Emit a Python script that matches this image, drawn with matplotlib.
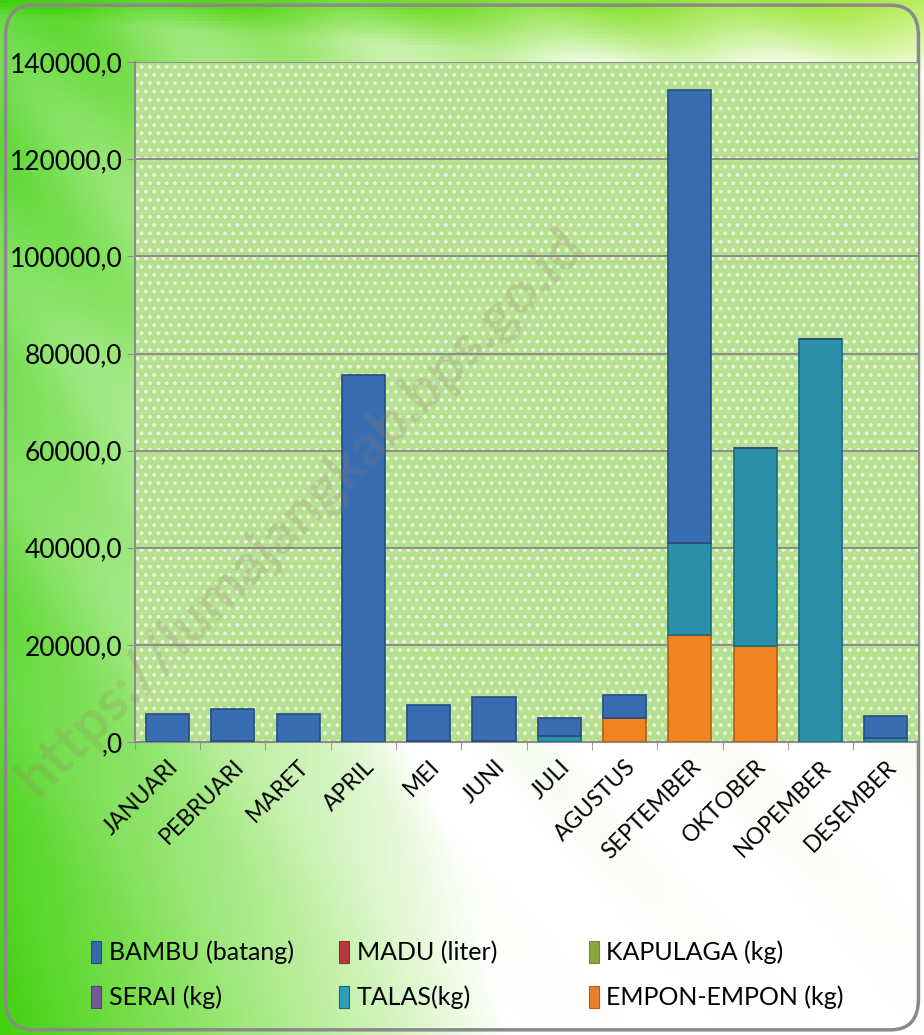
import numpy as np
import matplotlib
matplotlib.use("Agg")
import matplotlib.pyplot as plt
from matplotlib.patches import FancyBboxPatch

plt.rcParams['font.family'] = ['Lato', 'DejaVu Sans']
plt.rcParams['hatch.linewidth'] = 1.6

months = ['JANUARI', 'PEBRUARI', 'MARET', 'APRIL', 'MEI', 'JUNI', 'JULI',
          'AGUSTUS', 'SEPTEMBER', 'OKTOBER', 'NOPEMBER', 'DESEMBER']

# stacked from bottom: empon, talas, serai, kapulaga, madu, bambu
empon = [0, 0, 0, 0, 0, 0, 0, 5000, 22000, 19800, 0, 0]
talas = [0, 200, 0, 0, 200, 0, 1200, 0, 19000, 40800, 83000, 800]
serai = [0, 0, 0, 0, 0, 0, 0, 0, 0, 0, 0, 0]
kapulaga = [0, 0, 0, 0, 0, 300, 0, 0, 0, 0, 0, 0]
madu = [0, 0, 0, 0, 0, 0, 0, 0, 0, 0, 0, 0]
bambu = [5700, 6600, 5700, 75600, 7400, 8900, 3700, 4700, 93200, 0, 0, 4500]

series = [
    ('EMPON-EMPON (kg)', empon, '#ef8420', '#b85e10', '#e8802a'),
    ('TALAS(kg)', talas, '#2b90aa', '#1d6a80', '#2f9cb8'),
    ('SERAI (kg)', serai, '#7a5c9e', '#5a3f7a', '#7358a0'),
    ('KAPULAGA (kg)', kapulaga, '#94b852', '#6e8c38', '#86a83c'),
    ('MADU (liter)', madu, '#be4b48', '#8c3331', '#b8383c'),
    ('BAMBU (batang)', bambu, '#386db1', '#244d85', '#3a66ac'),
]

fig = plt.figure(figsize=(9.24, 10.35), dpi=100)

# background gradient: green on the left and along the top, white towards bottom right
bg = fig.add_axes([0, 0, 1, 1], zorder=-10)
h, w = 300, 280
yy, xx = np.mgrid[0:1:h*1j, 0:1:w*1j]   # yy = 0 at top
left = np.clip(1.0 - (xx + 0.35 * (1 - yy)) / 0.55, 0, 1)
top = np.clip(1.0 - yy / 0.07, 0, 1)
diag = np.clip(1.0 - (xx + yy * 0.6) / 0.9, 0, 1) * 0.8
stripe = 0.10 * np.sin((xx - yy) * 30)
g = np.clip(np.maximum(np.maximum(left, top), diag) + stripe * (1 - yy), 0, 1) ** 0.8
green_l = np.array([0.25, 0.82, 0.06])
green_t = np.array([0.70, 0.92, 0.30])
mixc = green_l[None, None, :] * (1 - xx[..., None]) + green_t[None, None, :] * xx[..., None]
white = np.array([1.0, 1.0, 1.0])
img = white[None, None, :] * (1 - g[..., None]) + mixc * g[..., None]
bg.imshow(img, extent=[0, 1, 0, 1], aspect='auto', origin='upper')
bg.set_xlim(0, 1)
bg.set_ylim(0, 1)
bg.axis('off')
frame = FancyBboxPatch((0.006, 0.005), 0.988, 0.99, boxstyle='round,pad=0,rounding_size=0.03',
                       transform=bg.transAxes, fill=False, edgecolor='#8a8a8a', linewidth=2.5)
bg.add_patch(frame)

ax = fig.add_axes([0.146, 0.283, 0.848, 0.657])
ax.set_facecolor('#b4e08f')
ax.patch.set_hatch('..')
ax.patch.set_edgecolor('#e8f6dc')
ax.patch.set_linewidth(0)

x = np.arange(len(months))
bottom = np.zeros(len(months))
handles = {}
for name, vals, col, edge, legcol in series:
    vals = np.array(vals, dtype=float)
    ax.bar(x, vals, bottom=bottom, width=0.66, color=col, edgecolor=edge, linewidth=1.2, zorder=3)
    handles[name] = plt.Rectangle((0, 0), 1, 1, facecolor=legcol, edgecolor=edge, linewidth=0.8)
    bottom += vals

ax.set_xlim(-0.5, len(months) - 0.5)
ax.set_ylim(0, 140000)
yticks = np.arange(0, 140001, 20000)
ax.set_yticks(yticks)
ax.set_yticklabels([',0' if v == 0 else '{:.1f}'.format(v).replace('.', ',') for v in yticks],
                   fontsize=19)
ax.grid(axis='y', color='#8c8c8c', linewidth=1.4, zorder=1)
ax.set_axisbelow(True)
ax.set_xticks(x - 0.5, minor=True)
ax.set_xticks(x)
ax.set_xticklabels(months, rotation=45, ha='right', rotation_mode='anchor', fontsize=16.5)
ax.tick_params(axis='x', which='major', length=0, pad=10)
ax.tick_params(axis='x', which='minor', length=6, color='#8c8c8c')
ax.tick_params(axis='y', length=6, color='#8c8c8c', pad=3)
for s in ['top', 'right']:
    ax.spines[s].set_visible(False)
for s in ['left', 'bottom']:
    ax.spines[s].set_color('#8c8c8c')
    ax.spines[s].set_linewidth(1.5)

# legend: three columns placed separately so they keep even spacing
legend_cols = [['BAMBU (batang)', 'SERAI (kg)'],
               ['MADU (liter)', 'TALAS(kg)'],
               ['KAPULAGA (kg)', 'EMPON-EMPON (kg)']]
col_x = [0.099, 0.367, 0.637]
for cx, names in zip(col_x, legend_cols):
    fig.legend([handles[n] for n in names], names, loc='center left',
               bbox_to_anchor=(cx, 0.058), frameon=False, fontsize=18,
               handlelength=0.4, handleheight=1.0, labelspacing=0.85,
               handletextpad=0.3, borderpad=0, borderaxespad=0)

fig.text(0.325, 0.505, 'https://lumajangkab.bps.go.id', rotation=45, fontsize=42,
         color='#9a7a6a', alpha=0.2, ha='center', va='center', fontweight='bold')

fig.savefig('out.png', dpi=100)
